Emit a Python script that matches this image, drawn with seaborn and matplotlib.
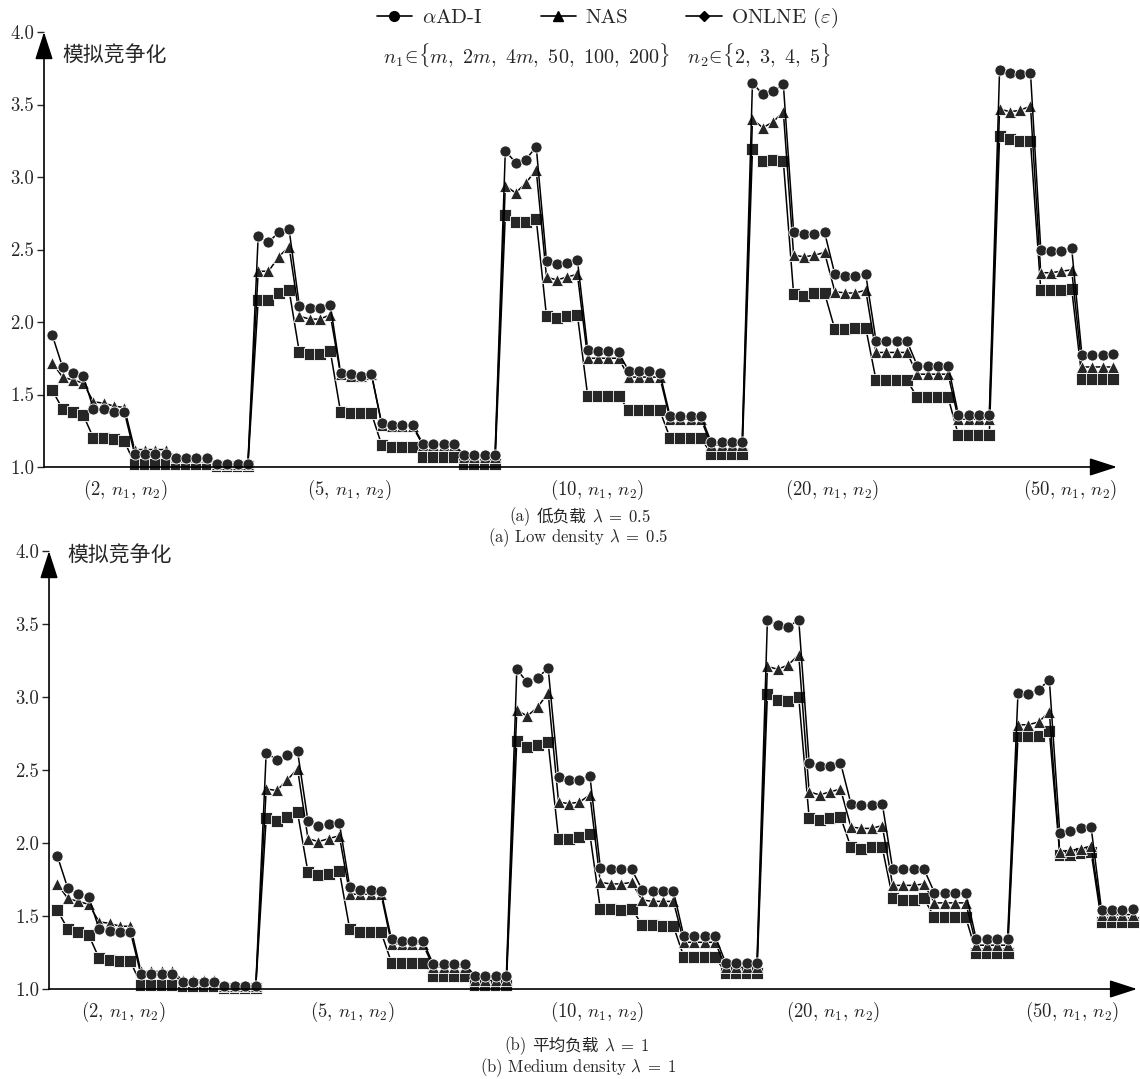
import numpy as np
import pandas as pd
import matplotlib
matplotlib.use("Agg")
import matplotlib.pyplot as plt
from matplotlib.lines import Line2D
from matplotlib.offsetbox import TextArea, HPacker, AnchoredOffsetbox
import seaborn as sns

# Data: 26 clusters of 4 points (n2 = 2..5) per series
methods = ["αAD-I", "NAS", "ONLNE"]
legend_labels = [r"$\alpha$AD-I", "NAS", r"ONLNE ($\varepsilon$)"]
group_labels = [r"(2, $n_1$, $n_2$)", r"(5, $n_1$, $n_2$)", r"(10, $n_1$, $n_2$)",
                r"(20, $n_1$, $n_2$)", r"(50, $n_1$, $n_2$)"]

# (a) low density, lambda = 0.5
low_alpha = [
    1.91, 1.69, 1.65, 1.63,  1.40, 1.40, 1.38, 1.38,  1.09, 1.09, 1.09, 1.09,
    1.06, 1.06, 1.06, 1.06,  1.02, 1.02, 1.02, 1.02,
    2.59, 2.55, 2.62, 2.64,  2.11, 2.10, 2.10, 2.12,  1.65, 1.64, 1.63, 1.64,
    1.30, 1.29, 1.29, 1.29,  1.16, 1.16, 1.16, 1.16,  1.08, 1.08, 1.08, 1.08,
    3.18, 3.10, 3.12, 3.21,  2.42, 2.40, 2.41, 2.43,  1.81, 1.80, 1.80, 1.79,
    1.66, 1.66, 1.66, 1.65,  1.35, 1.35, 1.35, 1.35,  1.17, 1.17, 1.17, 1.17,
    3.65, 3.57, 3.59, 3.64,  2.62, 2.61, 2.61, 2.62,  2.33, 2.32, 2.32, 2.33,
    1.87, 1.87, 1.87, 1.87,  1.70, 1.70, 1.70, 1.70,  1.36, 1.36, 1.36, 1.36,
    3.74, 3.72, 3.71, 3.72,  2.50, 2.49, 2.49, 2.51,  1.77, 1.77, 1.77, 1.78,
]
low_nas = [
    1.72, 1.62, 1.60, 1.58,  1.45, 1.44, 1.42, 1.41,  1.12, 1.12, 1.12, 1.12,
    1.07, 1.07, 1.07, 1.07,  1.02, 1.02, 1.02, 1.02,
    2.35, 2.35, 2.45, 2.52,  2.04, 2.02, 2.02, 2.05,  1.64, 1.63, 1.63, 1.64,
    1.29, 1.28, 1.28, 1.28,  1.15, 1.15, 1.15, 1.15,  1.07, 1.07, 1.07, 1.07,
    2.94, 2.89, 2.96, 3.05,  2.31, 2.29, 2.31, 2.33,  1.75, 1.75, 1.75, 1.75,
    1.62, 1.62, 1.62, 1.62,  1.33, 1.33, 1.33, 1.33,  1.15, 1.15, 1.15, 1.15,
    3.40, 3.34, 3.38, 3.45,  2.46, 2.45, 2.46, 2.48,  2.21, 2.20, 2.20, 2.22,
    1.79, 1.79, 1.79, 1.79,  1.64, 1.64, 1.64, 1.64,  1.33, 1.33, 1.33, 1.33,
    3.47, 3.45, 3.46, 3.49,  2.34, 2.34, 2.35, 2.36,  1.69, 1.69, 1.69, 1.69,
]
low_onlne = [
    1.53, 1.40, 1.38, 1.36,  1.20, 1.20, 1.19, 1.18,  1.02, 1.02, 1.02, 1.02,
    1.02, 1.02, 1.02, 1.02,  1.01, 1.01, 1.01, 1.01,
    2.15, 2.15, 2.20, 2.22,  1.79, 1.78, 1.78, 1.80,  1.38, 1.37, 1.37, 1.37,
    1.15, 1.14, 1.14, 1.14,  1.07, 1.07, 1.07, 1.07,  1.02, 1.02, 1.02, 1.02,
    2.74, 2.69, 2.69, 2.71,  2.04, 2.03, 2.04, 2.05,  1.49, 1.49, 1.49, 1.49,
    1.39, 1.39, 1.39, 1.39,  1.20, 1.20, 1.20, 1.20,  1.09, 1.09, 1.09, 1.09,
    3.19, 3.11, 3.12, 3.11,  2.19, 2.18, 2.20, 2.20,  1.95, 1.95, 1.96, 1.96,
    1.60, 1.60, 1.60, 1.60,  1.48, 1.48, 1.48, 1.48,  1.22, 1.22, 1.22, 1.22,
    3.28, 3.26, 3.25, 3.25,  2.22, 2.22, 2.22, 2.23,  1.61, 1.61, 1.61, 1.61,
]

# (b) medium density, lambda = 1
mid_alpha = [
    1.91, 1.69, 1.65, 1.63,  1.41, 1.40, 1.39, 1.39,  1.10, 1.10, 1.10, 1.10,
    1.05, 1.05, 1.05, 1.05,  1.02, 1.02, 1.02, 1.02,
    2.62, 2.57, 2.60, 2.63,  2.15, 2.12, 2.13, 2.14,  1.70, 1.68, 1.68, 1.67,
    1.34, 1.33, 1.33, 1.33,  1.17, 1.17, 1.17, 1.17,  1.09, 1.09, 1.09, 1.09,
    3.19, 3.10, 3.13, 3.20,  2.45, 2.43, 2.43, 2.46,  1.83, 1.82, 1.82, 1.82,
    1.68, 1.67, 1.67, 1.67,  1.36, 1.36, 1.36, 1.36,  1.18, 1.18, 1.18, 1.18,
    3.53, 3.49, 3.48, 3.53,  2.55, 2.53, 2.53, 2.55,  2.27, 2.26, 2.26, 2.27,
    1.82, 1.82, 1.82, 1.82,  1.66, 1.66, 1.66, 1.66,  1.34, 1.34, 1.34, 1.34,
    3.03, 3.02, 3.05, 3.12,  2.07, 2.08, 2.10, 2.11,  1.54, 1.54, 1.54, 1.55,
]
mid_nas = [
    1.72, 1.62, 1.60, 1.58,  1.46, 1.45, 1.43, 1.43,  1.12, 1.12, 1.12, 1.12,
    1.06, 1.06, 1.06, 1.06,  1.02, 1.02, 1.02, 1.02,
    2.37, 2.36, 2.43, 2.51,  2.03, 2.01, 2.03, 2.05,  1.65, 1.65, 1.65, 1.65,
    1.31, 1.31, 1.31, 1.31,  1.15, 1.15, 1.15, 1.15,  1.06, 1.06, 1.06, 1.06,
    2.91, 2.87, 2.93, 3.03,  2.28, 2.27, 2.28, 2.33,  1.73, 1.72, 1.72, 1.73,
    1.61, 1.60, 1.60, 1.60,  1.32, 1.32, 1.32, 1.32,  1.15, 1.15, 1.15, 1.15,
    3.21, 3.19, 3.22, 3.29,  2.35, 2.33, 2.35, 2.37,  2.11, 2.10, 2.10, 2.12,
    1.71, 1.71, 1.71, 1.72,  1.59, 1.59, 1.59, 1.59,  1.30, 1.30, 1.30, 1.30,
    2.81, 2.81, 2.83, 2.90,  1.94, 1.95, 1.96, 1.98,  1.51, 1.51, 1.51, 1.51,
]
mid_onlne = [
    1.54, 1.41, 1.39, 1.37,  1.21, 1.20, 1.19, 1.19,  1.03, 1.03, 1.03, 1.03,
    1.02, 1.02, 1.02, 1.02,  1.01, 1.01, 1.01, 1.01,
    2.17, 2.15, 2.18, 2.21,  1.80, 1.78, 1.79, 1.81,  1.41, 1.39, 1.39, 1.39,
    1.18, 1.18, 1.18, 1.18,  1.09, 1.09, 1.09, 1.09,  1.03, 1.03, 1.03, 1.03,
    2.70, 2.66, 2.67, 2.69,  2.03, 2.03, 2.04, 2.06,  1.55, 1.55, 1.54, 1.55,
    1.44, 1.44, 1.43, 1.43,  1.22, 1.22, 1.22, 1.22,  1.11, 1.11, 1.11, 1.11,
    3.02, 2.98, 2.97, 3.00,  2.17, 2.16, 2.17, 2.18,  1.97, 1.96, 1.97, 1.97,
    1.62, 1.61, 1.61, 1.62,  1.49, 1.49, 1.49, 1.49,  1.25, 1.25, 1.25, 1.25,
    2.73, 2.73, 2.73, 2.77,  1.92, 1.92, 1.93, 1.94,  1.46, 1.46, 1.46, 1.46,
]

sns.set_theme(style="white")
plt.rcParams["font.family"] = ["cmr10", "Noto Sans CJK SC", "DejaVu Sans"]
plt.rcParams["mathtext.fontset"] = "cm"
plt.rcParams["axes.formatter.use_mathtext"] = True

FS = 13.5
CAP_FS = 12
CJK = ["Noto Sans CJK SC"]
order = ["ONLNE", "NAS", "αAD-I"]
marker_map = {"αAD-I": "o", "NAS": "^", "ONLNE": "s"}
palette = {m: "#1c1c1c" for m in methods}


def make_df(series):
    n = len(series[0])
    return pd.DataFrame({
        "x": np.tile(np.arange(n), len(series)),
        "value": np.concatenate(series),
        "method": np.repeat(methods, n),
    })


def draw_panel(ax, df, tick_pos, ylab_y):
    sns.lineplot(data=df, x="x", y="value", hue="method", style="method",
                 hue_order=order, style_order=order, palette=palette,
                 markers=marker_map, dashes=False, markersize=8,
                 linewidth=1.1, estimator=None, legend=False, ax=ax,
                 clip_on=False)
    for line in ax.lines:
        line.set_color("black")
        line.set_markerfacecolor("#262626")
        line.set_markeredgecolor("white")
        line.set_markeredgewidth(0.6)
    ax.set_xlim(-0.8, 103.4)
    ax.set_ylim(1.0, 4.0)
    ax.set_yticks([1.0, 1.5, 2.0, 2.5, 3.0, 3.5, 4.0])
    ax.set_yticklabels(["1.0", "1.5", "2.0", "2.5", "3.0", "3.5", "4.0"], fontsize=FS)
    ax.set_xticks(tick_pos)
    ax.set_xticklabels(group_labels, fontsize=FS)
    ax.tick_params(axis="y", direction="out", length=5, width=1, pad=2, left=True)
    ax.tick_params(axis="x", length=0, pad=8)
    ax.set_xlabel("")
    ax.set_ylabel("")
    for s in ax.spines.values():
        s.set_visible(False)
    arrow = dict(arrowstyle="-|>,head_length=1.7,head_width=0.55", color="black",
                 lw=1.2, mutation_scale=10, shrinkA=0, shrinkB=0)
    ax.annotate("", xy=(1, 0), xytext=(0, 0), xycoords="axes fraction", arrowprops=arrow)
    ax.annotate("", xy=(0, 1), xytext=(0, 0), xycoords="axes fraction", arrowprops=arrow)
    ax.text(0.017, ylab_y, "模拟竞争化", transform=ax.get_yaxis_transform(),
            fontsize=15, ha="left", va="center", family=CJK)


def caption(x, y, parts):
    boxes = [TextArea(t, textprops=dict(fontsize=CAP_FS, family=fam)) for t, fam in parts]
    pack = HPacker(children=boxes, align="baseline", pad=0, sep=4)
    box = AnchoredOffsetbox(loc="center", child=pack, bbox_to_anchor=(x, y),
                            bbox_transform=fig.transFigure, frameon=False,
                            pad=0, borderpad=0)
    fig.add_artist(box)


fig = plt.figure(figsize=(11.4, 10.79), dpi=100)
ax1 = fig.add_axes([0.0386, 0.5672, 0.9412, 0.4031])
ax2 = fig.add_axes([0.0430, 0.0834, 0.9544, 0.4059])

draw_panel(ax1, make_df([low_alpha, low_nas, low_onlne]), [7.1, 28.9, 52.9, 75.7, 98.9], 3.84)
draw_panel(ax2, make_df([mid_alpha, mid_nas, mid_onlne]), [6.3, 28.3, 51.7, 74.3, 97.2], 3.97)

handles = [Line2D([], [], color="black", lw=1.2, marker="o", markersize=7),
           Line2D([], [], color="black", lw=1.2, marker="^", markersize=7),
           Line2D([], [], color="black", lw=1.2, marker="D", markersize=5)]
fig.legend(handles, legend_labels, loc="center", bbox_to_anchor=(0.533, 1 - 18 / 1079),
           ncol=3, frameon=False, fontsize=15, handlelength=1.7,
           handletextpad=0.45, columnspacing=2.8)
fig.text(0.533, 1 - 55 / 1079,
         r"$n_1\!\in\!\{m,\ 2m,\ 4m,\ 50,\ 100,\ 200\}\ \ \ n_2\!\in\!\{2,\ 3,\ 4,\ 5\}$",
         ha="center", va="center", fontsize=14.5)

caption(0.509, 1 - 517 / 1079, [("(a)", ["cmr10"]), ("低负载", CJK), (r"$\lambda\;=\;0.5$", ["cmr10"])])
fig.text(0.507, 1 - 538 / 1079, r"(a) Low density $\lambda\;=\;0.5$", ha="center", va="center", fontsize=CAP_FS)
caption(0.506, 1 - 1046 / 1079, [("(b)", ["cmr10"]), ("平均负载", CJK), (r"$\lambda\;=\;1$", ["cmr10"])])
fig.text(0.507, 1 - 1068 / 1079, r"(b) Medium density $\lambda\;=\;1$", ha="center", va="center", fontsize=CAP_FS)

fig.savefig("out.png", dpi=100)
